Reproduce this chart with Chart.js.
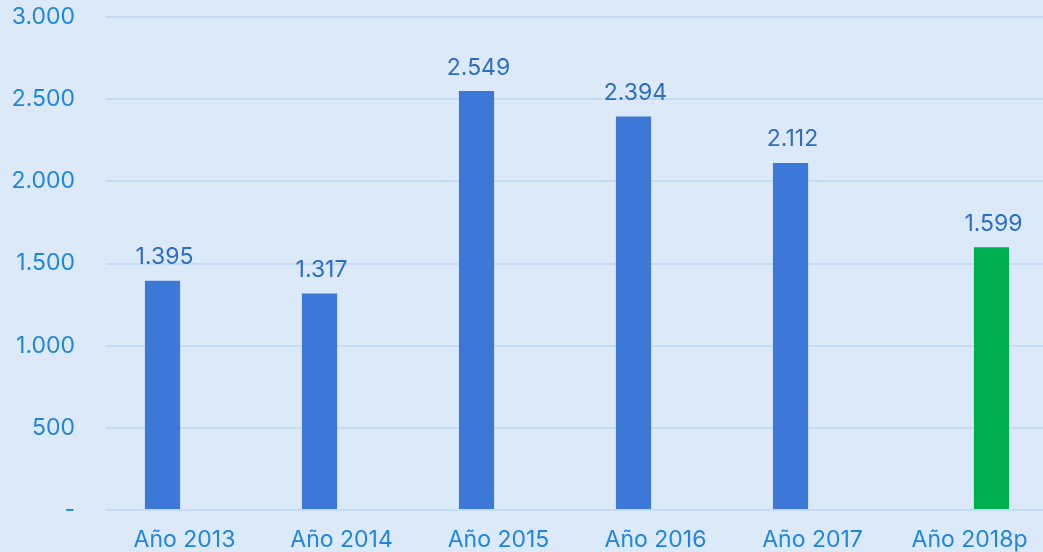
<!DOCTYPE html>
<html>
<head>
<meta charset="utf-8">
<script src="https://cdn.jsdelivr.net/npm/chart.js@4/dist/chart.umd.min.js"></script>
<style>
html,body{margin:0;padding:0;background:#dce9f9;overflow:hidden;}
#outer{width:1043px;height:552px;overflow:hidden;position:relative;}
#wrap{width:1048px;height:552px;position:relative;}
</style>
</head>
<body>
<div id="outer"><div id="wrap"><canvas id="c"></canvas></div></div>
<script>
const categories = ['Año 2013','Año 2014','Año 2015','Año 2016','Año 2017','Año 2018p'];
const historicalValues = [1395, 1317, 2549, 2394, 2112, null];
const projectedValues = [null, null, null, null, null, 1599];
const yTicks = [0, 500, 1000, 1500, 2000, 2500, 3000];

function fmt(v){
  if (v === 0) return '-';
  return String(Math.round(v)).replace(/\B(?=(\d{3})+(?!\d))/g, '.');
}

const FONT = 'Inter, "Noto Sans", sans-serif';

const valueLabels = {
  id: 'valueLabels',
  afterDatasetsDraw(chart){
    const ctx = chart.ctx;
    ctx.save();
    ctx.font = '23px ' + FONT;
    ctx.fillStyle = '#2a6ec6';
    ctx.textAlign = 'center';
    ctx.textBaseline = 'bottom';
    chart.data.datasets.forEach((ds, di) => {
      const meta = chart.getDatasetMeta(di);
      meta.data.forEach((bar, i) => {
        const v = ds.data[i];
        if (v === null || v === undefined) return;
        ctx.fillText(fmt(v), bar.x + 2, bar.y - 12);
      });
    });
    ctx.restore();
  }
};

new Chart(document.getElementById('c'), {
  type: 'bar',
  data: {
    labels: categories,
    datasets: [
      { data: historicalValues, backgroundColor: '#3c78d8', categoryPercentage: 0.56, barPercentage: 0.8 },
      { data: projectedValues, backgroundColor: '#00b050', categoryPercentage: 0.56, barPercentage: 0.8 }
    ]
  },
  options: {
    responsive: true,
    maintainAspectRatio: false,
    animation: false,
    layout: { padding: { top: 17, right: 0, bottom: 0, left: 0 } },
    plugins: { legend: { display: false }, tooltip: { enabled: false } },
    scales: {
      x: {
        afterFit(axis){ axis.height = 42; axis.paddingLeft = 0; axis.paddingRight = 0; },
        grid: { display: false, drawTicks: false },
        border: { display: false },
        ticks: { color: '#1f86e0', font: { family: FONT, size: 23 }, padding: 16, maxRotation: 0, autoSkip: false }
      },
      y: {
        min: 0, max: 3000,
        afterBuildTicks(axis){ axis.ticks = yTicks.map(v => ({ value: v })); },
        afterFit(axis){ axis.width = 106; axis.paddingTop = 0; axis.paddingBottom = 0; },
        grid: { color: '#c4dcf6', lineWidth: 2, drawTicks: false },
        border: { display: false },
        ticks: { color: '#1f86e0', font: { family: FONT, size: 23 }, padding: 31, callback: v => fmt(v) }
      }
    }
  },
  plugins: [valueLabels]
});
</script>
</body>
</html>
